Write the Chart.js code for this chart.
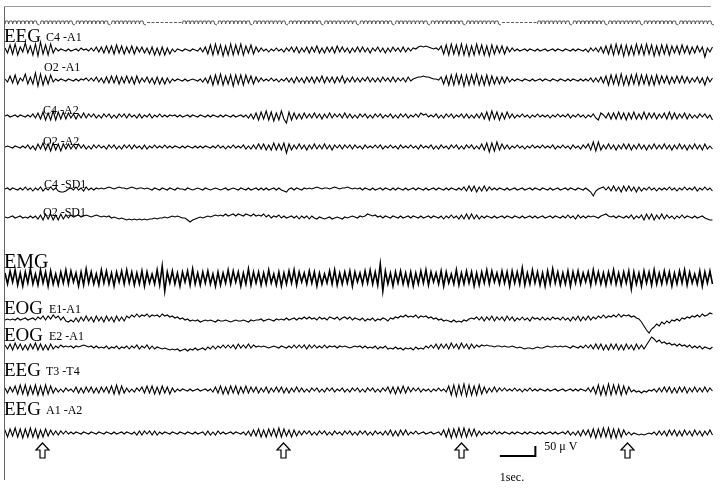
<!DOCTYPE html>
<html>
<head>
<meta charset="utf-8">
<script src="https://cdn.jsdelivr.net/npm/chart.js@4/dist/chart.umd.min.js"></script>
<style>
  html, body { margin: 0; padding: 0; background: #fff; }
  #wrap { width: 720px; height: 490px; }
</style>
</head>
<body>
<div id="wrap"><canvas id="eeg" width="720" height="490"></canvas></div>
<script>
// recording: 14 samples per second, one unit = 5 uV
const SAMPLE_RATE = 14;
const UV_PER_UNIT = 5;

// time marker line (seconds)
const markedSeconds = [0, 1, 2, 3, 5, 6, 7, 8, 9, 10, 11, 12, 13, 15, 16, 17, 18, 19];
const dashedSeconds = [4, 14];
const arrowTimes = [1.04, 7.83, 12.85, 17.52];

const c4a1 = [
  2,-3,5,-4,6,-5,3,-2,7,-3,4,-5,6,-6,8,-4,5,-5,6,-3,
  2,-1,1,0,-1,1,-1,0,1,-1,2,0,1,-1,2,-1,3,-2,3,-3,
  4,-3,4,-4,5,-3,4,-4,3,-3,4,-4,3,-2,3,-3,2,-4,3,-5,
  2,-5,3,-5,2,-4,1,-2,1,0,-1,1,0,-1,1,0,-1,2,-2,3,
  -4,5,-5,6,-4,5,-6,4,-5,6,-5,5,-4,6,-5,4,-3,5,-4,3,
  -2,2,-1,1,-2,1,-1,2,-1,1,-2,2,-1,3,-2,3,-3,2,-2,3,
  -3,3,-2,4,-3,2,-3,3,-2,3,-3,4,-2,3,-2,2,-3,2,-2,3,
  -2,3,-2,2,-3,2,-1,3,-2,2,-3,2,-2,3,-1,2,-2,3,-2,2,
  -1,2,1,3,4,3,4,3,2,1,2,0,4,-4,5,-5,6,-4,5,-5,
  6,-5,5,-6,4,-5,6,-4,5,-5,4,-6,5,-4,4,-3,4,-4,3,-2,
  2,-1,1,-1,0,1,-1,1,0,-1,1,-1,0,1,-1,0,1,-1,1,0,
  -1,1,0,-1,1,-1,1,0,-1,1,-2,2,-1,2,-2,3,-3,4,-4,5,
  -5,6,-4,5,-6,5,-5,4,-5,6,-4,5,-5,6,-4,5,-6,4,-5,5,
  -4,5,-5,4,-3,4,-4,5,-3,4,-4,3,-3,4,-2,3,-7,2,-2,3
];
const o2a1 = [
  1,-2,4,-3,5,-4,2,-1,6,-4,3,-4,7,-6,6,-5,4,-4,5,-2,
  1,-1,1,0,-1,1,0,-1,1,-1,1,0,2,-1,2,-1,3,-2,2,-3,
  3,-3,4,-3,4,-4,3,-3,4,-3,3,-4,4,-3,2,-2,3,-3,2,-4,
  3,-4,2,-4,2,-3,1,-1,1,0,-1,1,-1,0,1,0,-1,1,-2,2,
  -3,4,-5,5,-4,6,-5,4,-4,5,-6,5,-4,5,-5,5,-3,4,-4,3,
  -2,2,-1,1,-1,2,-1,1,-2,1,-1,2,-2,2,-3,3,-2,2,-3,3,
  -2,3,-3,3,-2,4,-3,3,-2,3,-3,3,-2,4,-3,2,-2,3,-2,2,
  -2,2,-1,3,-2,2,-2,2,-2,3,-1,2,-2,3,-2,2,-1,2,-2,3,
  -1,1,2,3,3,4,3,3,2,1,1,0,3,-4,4,-5,5,-5,6,-4,
  5,-6,5,-5,5,-4,6,-5,4,-5,5,-5,4,-4,3,-4,3,-3,3,-2,
  1,-1,1,0,-1,1,0,-1,1,-1,0,1,-1,1,0,-1,1,0,-1,1,
  0,-1,1,-1,1,0,-1,1,-1,1,-1,2,-2,2,-2,3,-3,4,-5,5,
  -4,5,-5,6,-5,4,-5,5,-4,6,-5,5,-4,5,-5,4,-5,5,-4,4,
  -3,4,-4,3,-3,4,-3,4,-3,3,-3,2,-2,3,-3,2,-5,3,-2,2
];
const c4a2 = [
  0,1,-1,0,1,-1,1,0,-1,1,-1,2,-2,3,-3,4,-4,3,-4,5,
  -4,4,-3,4,-3,3,-2,2,-3,2,-2,3,-2,2,-1,2,-2,1,-2,2,
  -1,2,-2,1,-2,2,-1,2,-2,2,-1,1,-2,2,-2,1,-1,2,-2,1,
  -1,2,-1,1,-1,1,0,1,-1,1,-1,0,1,-1,1,0,-1,1,0,-1,
  1,-1,1,0,-1,1,-1,1,0,-1,1,-1,0,1,-1,1,-2,2,-3,3,
  -4,4,-3,5,-4,4,-5,3,-4,5,-3,-7,4,-4,3,-3,2,-3,3,-2,
  2,-2,3,-2,2,-3,2,-2,3,-2,2,-1,2,-2,3,-2,2,-2,1,-2,
  2,-1,2,-2,1,-2,2,-1,2,-2,1,-1,2,-2,1,-2,2,-1,2,-2,
  1,-1,2,-1,3,1,2,-1,1,-1,2,-2,1,-2,2,-1,2,-2,1,-1,
  2,-2,2,-2,1,-2,2,-2,3,-3,4,-4,5,-3,4,-4,3,-3,4,-2,
  2,-2,1,-1,2,-1,1,-2,1,-1,2,-1,1,-1,1,-2,1,-1,2,-1,
  1,-1,2,-2,1,-1,2,-1,1,-2,1,-1,2,-2,-4,3,1,-2,3,-3,
  3,-3,4,-3,3,-4,3,-3,4,-3,2,-3,4,-3,3,-2,3,-3,2,-2,
  3,-3,4,-3,3,-3,2,-2,3,-3,2,-2,1,-2,2,-1,2,-2,1,-4
];
const o2a2 = [
  0,1,0,-1,1,0,-1,1,-1,2,-2,1,-3,3,-2,4,-3,3,-4,4,
  -3,3,-4,3,-2,3,-2,2,-2,3,-1,2,-2,1,-2,2,-1,2,-1,1,
  -2,2,-1,2,-2,1,-2,2,-1,2,-2,2,-1,1,-2,2,-2,1,-1,2,
  -1,1,-1,2,-1,1,-1,1,0,-1,1,-1,1,0,-1,1,-1,1,-1,1,
  0,-1,1,-1,2,-1,1,-2,1,-1,2,-1,1,-1,2,-2,1,-2,2,-2,
  3,-2,3,-3,2,-3,4,-3,3,-3,4,-6,3,-3,2,-2,3,-2,2,-3,
  2,-2,3,-2,2,-2,3,-2,2,-3,2,-1,2,-2,2,-1,2,-2,2,-1,
  1,-2,2,-1,1,-1,2,-1,2,-2,1,-1,2,-1,1,-2,2,-1,1,-1,
  2,-1,1,-2,2,-1,1,-1,2,-2,1,-2,2,-1,1,-2,2,-1,2,-2,
  1,-2,2,-1,2,-2,1,-2,3,-3,4,-5,4,-4,5,-3,3,-2,2,-2,
  1,-1,2,-1,1,-2,1,-1,2,-1,1,-1,2,-1,1,-1,2,-2,1,-1,
  2,-1,1,-2,2,-1,1,-2,2,-1,3,-3,5,-4,5,-3,2,-2,3,-2,
  2,-3,2,-2,3,-2,3,-3,2,-2,3,-2,2,-3,2,-2,3,-2,2,-2,
  3,-2,2,-3,2,-2,3,-2,2,-3,2,-2,3,-2,2,-3,3,-2,1,-2
];
const c4sd1 = [
  0,1,-1,1,0,-1,1,-1,2,-1,1,-2,1,-1,2,-2,1,-1,2,-1,
  1,-2,-3,-3,-2,0,1,-1,2,-1,1,-2,2,-1,1,-1,1,0,1,0,
  1,2,1,0,1,2,1,1,0,1,2,1,0,1,1,0,1,0,-1,1,
  0,-1,1,0,-1,1,0,-1,1,0,0,-1,1,0,-1,0,1,0,-1,1,
  0,-1,0,1,0,-1,0,1,-1,0,1,0,-1,1,0,-1,1,-1,0,1,
  -1,1,-1,1,-1,0,1,-1,1,-1,-2,-3,0,1,-1,1,0,-1,1,0,
  1,0,1,2,1,0,1,1,0,1,2,1,0,1,1,2,1,0,1,0,
  1,-1,1,0,-1,1,-1,0,1,-1,1,0,-1,1,-1,1,0,-1,1,-1,
  0,1,-1,1,0,-1,1,-1,0,1,-1,1,0,-1,1,-1,1,0,-1,1,
  -1,2,-2,3,-2,3,-3,2,-2,3,-2,2,-1,1,-1,1,0,-1,1,-1,
  0,1,-1,0,1,-1,0,1,-1,1,0,-1,1,0,-1,1,-1,0,1,-1,
  0,1,-1,1,0,-1,1,0,-1,1,-1,-3,-7,-2,0,1,2,-1,2,-2,
  3,-2,2,-3,3,-2,3,-2,2,-3,2,-2,1,-1,2,-1,1,-2,1,-1,
  1,-1,2,-1,1,-2,1,-1,2,-1,1,-1,2,-2,1,-1,2,-1,1,-2
];
const o2sd1 = [
  0,-1,0,1,-1,0,1,-1,0,-1,1,-1,1,-2,2,-3,3,-2,3,-3,
  2,-3,3,-2,2,-1,2,0,1,2,0,1,2,1,0,1,2,1,0,1,
  0,1,-1,0,-1,-2,-1,-2,-3,-2,-3,-2,-3,-2,-3,-2,-3,-2,-2,-1,
  -2,-1,-1,0,-1,0,1,0,1,0,-1,-1,-3,-5,-3,-2,-1,0,-1,0,
  1,0,1,2,1,2,1,3,1,2,3,1,3,2,1,3,2,1,3,1,
  2,1,3,0,2,-1,1,0,2,-1,1,-1,0,1,-1,1,-2,1,-1,1,
  -2,1,-1,-2,0,-1,-2,-1,0,-2,-1,0,-1,-2,0,-1,0,1,0,-1,
  1,0,1,3,2,1,2,0,1,-1,1,0,-1,1,0,-1,1,-1,0,1,
  -1,1,0,-1,1,-1,0,1,-1,1,0,-1,1,-2,1,-1,2,-1,1,-2,
  2,-2,3,-2,3,-2,2,-2,1,-1,1,0,-1,1,-1,0,1,-1,1,0,
  -1,1,0,-1,1,-1,0,1,-1,1,-1,0,1,-1,0,1,-1,1,0,-1,
  1,-1,2,-1,1,-2,2,-1,1,-1,1,0,1,0,-1,1,2,3,1,0,
  1,-1,1,0,-1,1,-1,2,-2,1,-1,2,-3,3,-2,3,-3,2,-2,3,
  -2,2,-1,1,-2,1,-1,2,-1,1,0,-1,1,-1,0,1,-1,-2,-3,-3
];
const emg = [
  5,-6,7,-4,8,-7,5,-8,6,-5,9,-6,4,-7,8,-5,6,-8,7,-6,
  4,-7,6,-5,8,-6,7,-4,5,-8,6,-7,9,-5,6,-6,4,-7,8,-5,
  7,-6,5,-8,6,-4,7,-6,8,-5,6,-7,5,-6,7,-8,6,-5,4,-6,
  8,-7,12,-13,6,-5,7,-6,5,-8,6,-4,7,-7,9,-6,5,-7,6,-5,
  7,-6,4,-8,6,-7,5,-5,8,-6,7,-4,6,-8,5,-6,9,-7,6,-5,
  6,-7,5,-6,8,-5,4,-7,6,-8,5,-6,7,-5,8,-7,6,-4,5,-6,
  7,-5,6,-8,5,-6,4,-5,7,-6,8,-7,5,-6,6,-5,7,-8,6,-4,
  5,-6,7,-5,8,-6,6,-7,14,-13,7,-6,5,-8,6,-5,7,-6,5,-7,
  6,-8,5,-6,7,-5,8,-7,6,-4,5,-6,7,-8,6,-5,4,-6,8,-7,
  5,-6,7,-5,6,-8,5,-7,6,-5,8,-6,7,-4,5,-6,7,-5,6,-8,
  7,-5,6,-6,10,-7,5,-6,8,-5,6,-7,5,-8,7,-6,9,-5,6,-7,
  5,-6,7,-8,6,-5,7,-6,5,-4,6,-7,8,-5,6,-6,5,-7,6,-5,
  8,-6,5,-7,6,-5,7,-11,6,-6,5,-8,7,-5,6,-7,8,-6,5,-6,
  7,-5,6,-8,5,-6,7,-5,8,-7,6,-5,4,-6,7,-8,6,-5,7,-6
];
const e1a1 = [
  -1,0,-1,0,-1,1,-1,0,1,-1,0,1,-1,2,0,3,-1,3,0,4,
  1,3,-1,2,-2,-3,-1,-3,1,-3,2,-2,3,-2,2,-3,3,-2,2,-3,
  3,-2,2,-3,3,-2,2,-2,3,1,4,2,5,2,4,3,5,2,4,3,
  4,2,5,3,4,2,3,1,2,0,1,-1,0,-2,-1,-2,-1,-3,-2,-1,
  -2,-1,-2,-3,-1,-2,-2,-1,-2,-3,-2,-1,-2,-2,-1,-2,-3,-1,-2,-1,
  -1,0,-2,-1,0,-1,-2,0,-1,0,-1,1,-1,0,1,-1,1,0,2,0,
  2,0,1,-1,2,0,1,-1,2,1,0,2,-1,1,2,0,2,-1,1,0,
  -1,1,-2,0,-1,1,-2,0,-1,1,0,-2,1,0,2,1,3,2,4,2,
  3,2,4,1,3,2,3,1,2,0,1,-1,0,-2,-1,-2,-3,-1,-3,-2,
  -3,-1,-2,0,1,0,2,-1,2,-2,2,-1,3,-2,2,-1,2,-2,3,-1,
  2,-2,1,-1,2,-1,1,-2,2,0,1,-1,2,-1,1,-1,2,0,1,-1,
  2,-1,1,-2,2,-1,3,-2,2,-1,3,-1,2,0,3,1,4,1,3,2,
  4,2,5,2,4,3,4,2,3,1,0,-3,-7,-11,-14,-10,-8,-5,-7,-3,
  -5,-2,-4,-1,-2,0,-2,1,0,2,1,3,2,4,2,5,3,4,6,5
];
const e2a1 = [
  2,-2,3,-3,4,-2,3,-3,2,-3,3,-2,4,-3,3,-3,2,-3,3,-2,
  1,-1,2,0,1,0,1,-1,1,0,1,2,1,0,1,-1,1,-1,0,-1,
  1,-2,0,-1,1,-2,0,-1,1,-2,1,-1,2,-2,1,-1,2,-2,1,-2,
  0,-1,-2,-1,-2,-3,-2,-3,-2,-4,-3,-2,-4,-2,-3,-1,-3,-2,-1,-3,
  0,-2,1,-2,1,-1,2,-1,2,-1,2,-2,3,-1,2,-1,3,-1,2,0,
  1,0,1,0,-1,0,1,0,-1,1,0,-1,1,-1,2,-1,2,-1,2,-2,
  2,-1,2,-1,1,-1,2,-1,1,0,1,-1,1,0,1,0,-1,0,1,0,
  1,-1,1,-1,0,-1,1,-2,0,-1,1,-2,-1,-2,0,-2,-1,-3,-1,-2,
  -1,-3,0,-2,-1,-2,1,-1,2,-1,3,-2,3,-1,3,-2,4,-1,3,-2,
  4,-1,3,-2,3,-1,2,0,2,1,2,1,1,0,1,1,0,1,0,0,
  1,0,-1,0,-1,-2,-1,-1,-2,-1,0,-1,-1,0,1,0,0,1,0,1,
  0,1,0,-1,1,0,-1,1,-1,2,-1,2,-2,3,-2,3,-3,2,-3,3,
  -2,3,-3,2,-3,3,-2,2,-3,3,-2,2,-2,2,6,10,8,5,7,4,
  5,3,4,2,3,1,3,1,2,0,2,-1,1,-1,1,-2,0,-1,-2,0
];
const t3t4 = [
  2,-3,3,-2,4,-4,5,-4,5,-5,4,-4,5,-5,4,-5,5,-4,4,-3,
  2,-2,1,-2,2,-1,1,-2,3,-3,2,-3,3,-2,3,-3,2,-3,3,-2,
  3,-3,4,-4,5,-4,4,-3,2,-2,1,-2,2,-1,3,-3,4,-3,4,-4,
  3,-4,4,-3,3,-4,2,-2,1,-1,1,0,-1,1,-1,0,1,-1,0,1,
  -1,1,-2,3,-3,4,-4,3,-4,4,-3,4,-4,3,-3,4,-3,3,-2,3,
  -3,2,-2,3,-3,2,-2,3,-2,3,-3,2,-3,2,-2,3,-2,2,-2,1,
  -2,2,-1,2,-2,1,-2,2,-1,2,-2,1,-1,2,-2,1,-2,2,-1,2,
  -2,1,-2,2,-1,2,-2,1,-2,2,-1,3,-3,3,-4,3,-3,4,-3,3,
  -2,2,-1,2,-2,1,-1,1,-2,1,-1,2,-1,1,-2,4,-5,5,-6,5,
  -5,6,-6,5,-5,4,-5,5,-4,3,-3,2,-2,3,-2,2,-1,2,-1,1,
  -1,2,-1,1,-2,1,-1,2,-1,1,-1,1,0,-1,1,-1,0,1,-1,0,
  1,-1,0,1,-1,1,-1,1,0,-1,2,-2,3,-4,5,-5,4,-5,6,-5,
  5,-4,5,-5,4,-4,3,-2,0,-2,-1,-3,-1,-2,0,-1,1,-2,2,-2,
  3,-2,3,-3,2,-3,3,-2,3,-3,2,-2,3,-2,2,-2,3,-2,2,-1
];
const a1a2 = [
  3,-4,4,-3,5,-4,4,-5,4,-4,5,-4,4,-5,3,-4,4,-3,3,-2,
  2,-2,2,-1,2,-1,1,-1,1,0,-1,1,0,-1,1,0,-1,1,0,-1,
  1,0,-1,1,-1,0,1,-1,1,0,-1,1,-2,2,-2,2,-1,2,-2,2,
  -2,1,-1,1,0,-1,1,0,-1,1,0,-1,1,0,-1,1,-1,0,1,-2,
  2,-2,1,-2,2,-1,1,-1,0,1,-1,1,0,-1,1,-2,2,-3,3,-3,
  4,-4,3,-4,4,-3,4,-4,5,-4,4,-3,3,-4,3,-3,2,-2,2,-1,
  2,-2,1,-2,2,-1,2,-2,1,-2,2,-1,1,-2,2,-1,2,-2,1,-2,
  2,-1,2,-2,1,-2,2,-1,1,-2,2,-2,3,-3,2,-3,3,-2,3,-2,
  1,-1,2,-1,0,1,-1,0,1,-1,0,1,-2,3,-4,4,-5,4,-4,5,
  -4,5,-4,4,-3,4,-3,2,-2,1,-1,1,-1,2,-1,1,-1,1,0,-1,
  1,-1,1,0,-1,1,-1,1,0,-1,1,-1,1,-1,0,1,-1,1,-1,0,
  1,-1,2,-2,1,-2,2,-3,3,-2,3,-4,4,-5,4,-4,5,-4,5,-5,
  4,-5,4,-4,3,-2,1,-2,0,-1,-2,-1,-2,-1,0,-1,1,-2,2,-2,
  2,-3,3,-2,3,-3,2,-3,3,-2,2,-3,3,-2,2,-3,2,-2,3,-2
];

// where each trace sits on the page (y pixel of its baseline)
const channels = [
  { data: c4a1, base: 50 },
  { data: o2a1, base: 80 },
  { data: c4a2, base: 116 },
  { data: o2a2, base: 147 },
  { data: c4sd1, base: 189 },
  { data: o2sd1, base: 217 },
  { data: emg, base: 278, width: 1.6 },
  { data: e1a1, base: 319 },
  { data: e2a1, base: 347 },
  { data: t3t4, base: 390 },
  { data: a1a2, base: 433 }
];

// [big word, small derivation, x of small, y]
const labels = [
  ["EEG", "C4 -A1", 46, 37],
  ["", "O2 -A1", 44, 67],
  ["", "C4 -A2", 43, 110],
  ["", "O2 -A2", 43, 141],
  ["", "C4 -SD1", 44, 184],
  ["", "O2 -SD1", 43, 212],
  ["EMG", "", 0, 263],
  ["EOG", "E1-A1", 49, 309],
  ["EOG", "E2 -A1", 49, 336],
  ["EEG", "T3 -T4", 46, 371],
  ["EEG", "A1 -A2", 46, 410]
];

const PX_PER_SEC = 35.5;
const X0 = 5;

const overlay = {
  id: 'overlay',
  afterDraw(chart) {
    const ctx = chart.ctx;
    const xs = chart.scales.x, ys = chart.scales.y;
    ctx.save();

    // frame
    ctx.strokeStyle = '#999';
    ctx.lineWidth = 1;
    ctx.beginPath();
    ctx.moveTo(4.5, 6.5); ctx.lineTo(711, 6.5);
    ctx.stroke();
    ctx.strokeStyle = '#666';
    ctx.beginPath();
    ctx.moveTo(4.5, 6.5); ctx.lineTo(4.5, 480);
    ctx.stroke();

    // one-second marker line
    const ty = ys.getPixelForValue(24);
    ctx.strokeStyle = '#333';
    ctx.lineWidth = 0.8;
    markedSeconds.forEach(s => {
      const a = xs.getPixelForValue(s), b = xs.getPixelForValue(s + 1);
      const w = (b - a - 3) / 8;
      ctx.beginPath();
      ctx.moveTo(a, ty);
      for (let k = 0; k < 8; k++) {
        const x = a + k * w;
        ctx.lineTo(x + 0.5, ty - 3);
        ctx.lineTo(x + w - 1, ty - 3);
        ctx.lineTo(x + w - 0.5, ty);
      }
      ctx.lineTo(b - 1, ty + 1);
      ctx.stroke();
    });
    ctx.setLineDash([3, 1.5]);
    dashedSeconds.forEach(s => {
      ctx.beginPath();
      ctx.moveTo(xs.getPixelForValue(s), ty - 1.5);
      ctx.lineTo(xs.getPixelForValue(s + 1), ty - 1.5);
      ctx.stroke();
    });
    ctx.setLineDash([]);

    // channel labels
    ctx.fillStyle = '#000';
    ctx.textBaseline = 'middle';
    labels.forEach(([big, small, sx, y]) => {
      if (big) {
        ctx.font = (big === 'EMG' ? '20px' : '19px') + ' "Liberation Serif", serif';
        ctx.fillText(big, 4, y);
      }
      if (small) {
        ctx.font = '12px "Liberation Serif", serif';
        ctx.fillText(small, sx, y + 1);
      }
    });

    // arrows
    ctx.strokeStyle = '#000';
    ctx.lineWidth = 1.2;
    arrowTimes.forEach(t => {
      const x = Math.round(xs.getPixelForValue(t)) + 0.5;
      const top = 443, mid = 450, bot = 458;
      ctx.beginPath();
      ctx.moveTo(x, top);
      ctx.lineTo(x + 6.5, mid);
      ctx.lineTo(x + 2.5, mid);
      ctx.lineTo(x + 2.5, bot);
      ctx.lineTo(x - 2.5, bot);
      ctx.lineTo(x - 2.5, mid);
      ctx.lineTo(x - 6.5, mid);
      ctx.closePath();
      ctx.fillStyle = '#fff';
      ctx.fill();
      ctx.stroke();
    });

    // calibration: 1 s by 50 uV
    const sx0 = xs.getPixelForValue(13.94), sx1 = xs.getPixelForValue(14.94);
    const sy = ys.getPixelForValue(456);
    const sy1 = ys.getPixelForValue(456 - 50 / UV_PER_UNIT);
    ctx.lineWidth = 2;
    ctx.beginPath();
    ctx.moveTo(sx0, sy); ctx.lineTo(sx1, sy); ctx.lineTo(sx1, sy1);
    ctx.stroke();
    ctx.fillStyle = '#000';
    ctx.font = '12px "Liberation Serif", serif';
    ctx.fillText('50 \u03bc V', sx1 + 9, 447);
    ctx.fillText('1sec.', sx0, 478);

    ctx.restore();
  }
};

new Chart(document.getElementById('eeg'), {
  type: 'line',
  data: {
    datasets: channels.map(ch => ({
      data: ch.data.map((v, i) => ({ x: i / SAMPLE_RATE, y: ch.base - v })),
      borderColor: '#000',
      borderWidth: ch.width || 1.1,
      pointRadius: 0,
      tension: 0,
      fill: false
    }))
  },
  options: {
    responsive: false,
    animation: false,
    events: [],
    layout: { padding: 0 },
    plugins: { legend: { display: false }, tooltip: { enabled: false } },
    scales: {
      x: { type: 'linear', display: false, min: -X0 / PX_PER_SEC, max: (720 - X0) / PX_PER_SEC },
      y: { type: 'linear', display: false, min: 0, max: 490, reverse: true }
    }
  },
  plugins: [overlay]
});
</script>
</body>
</html>
